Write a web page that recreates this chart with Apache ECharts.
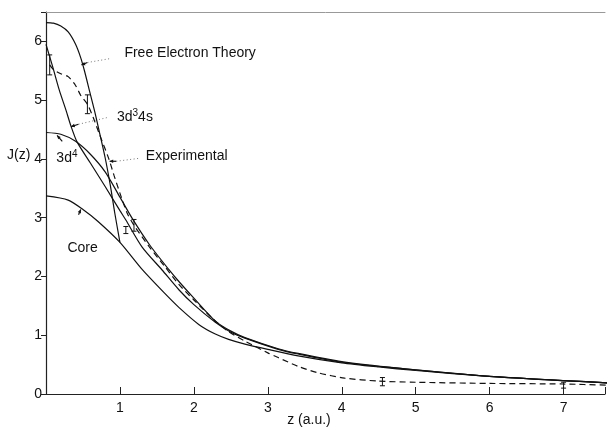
<!DOCTYPE html>
<html>
<head>
<meta charset="utf-8">
<script src="https://cdn.jsdelivr.net/npm/echarts@6/dist/echarts.min.js"></script>
<style>
html, body { margin: 0; padding: 0; background: #fff; }
#chart { width: 608px; height: 428px; }
</style>
</head>
<body>
<div id="chart"></div>
<script>
// curves, z in a.u.
var coreZ = [0, 0.3, 0.5, 0.7, 1.0, 1.3, 1.6, 1.8, 2.07, 2.29, 2.47, 2.69, 3.0, 3.41, 4.0, 4.5, 5.0, 6.0, 7.0, 7.6];
var coreJ = [3.37, 3.30, 3.14, 2.94, 2.58, 2.12, 1.72, 1.47, 1.18, 1.02, 0.93, 0.85, 0.76, 0.65, 0.53, 0.46, 0.40, 0.30, 0.23, 0.19];

var feZ = [0, 0.1, 0.2, 0.3, 0.4, 0.47, 0.52, 0.59, 0.66, 0.72, 0.8, 0.87, 0.93, 1.0];
var feJ = [6.32, 6.31, 6.26, 6.16, 5.95, 5.72, 5.5, 5.15, 4.8, 4.47, 4.02, 3.55, 3.08, 2.58];

var d4Z = [0, 0.2, 0.4, 0.6, 0.8, 1.0, 1.17, 1.4, 1.66, 1.8, 2.0, 2.29, 2.5, 2.69, 3.14, 3.41, 4.0, 4.76, 6.0, 7.6];
var d4J = [4.45, 4.42, 4.30, 4.08, 3.78, 3.35, 2.98, 2.54, 2.12, 1.91, 1.63, 1.24, 1.07, 0.96, 0.77, 0.69, 0.55, 0.44, 0.30, 0.19];

var d3Z = [0, 0.09, 0.18, 0.27, 0.34, 0.42, 0.6, 0.8, 1.0, 1.08, 1.3, 1.57, 1.8, 2.0, 2.29, 2.5, 2.69, 3.14, 3.41, 4.0, 4.76, 6.0, 7.6];
var d3J = [5.95, 5.57, 5.17, 4.83, 4.55, 4.29, 3.93, 3.53, 3.12, 2.96, 2.50, 2.11, 1.77, 1.52, 1.22, 1.05, 0.95, 0.76, 0.68, 0.54, 0.44, 0.30, 0.19];

var expZ = [0.05, 0.1, 0.2, 0.3, 0.4, 0.47, 0.56, 0.64, 0.72, 0.85, 0.92, 1.01, 1.1, 1.19, 1.4, 1.6, 1.8, 2.0, 2.24, 2.47, 2.69, 3.0, 3.14, 3.41, 3.68, 4.04, 4.49, 5.0, 6.0, 7.0, 7.6];
var expJ = [5.6, 5.52, 5.45, 5.4, 5.25, 5.08, 4.93, 4.7, 4.43, 4.0, 3.72, 3.38, 3.07, 2.87, 2.5, 2.18, 1.86, 1.6, 1.30, 1.06, 0.90, 0.70, 0.62, 0.47, 0.36, 0.27, 0.22, 0.20, 0.18, 0.17, 0.15];

// error bars on the experimental points
var errZ = [0.05, 0.56, 1.08, 1.19, 4.55, 7.0];
var errJ = [5.6, 4.93, 2.79, 2.87, 0.21, 0.15];
var errD = [0.17, 0.16, 0.06, 0.1, 0.07, 0.05];

var xTicks = [0, 1, 2, 3, 4, 5, 6, 7];
var yTicks = [0, 1, 2, 3, 4, 5, 6];

function pairs(zs, js) {
    return zs.map(function (z, i) { return [z, js[i]]; });
}

var font = '"Liberation Sans", Arial, Helvetica, sans-serif';
var ink = '#111';

var chart = echarts.init(document.getElementById('chart'));

function curve(name, zs, js, dashed) {
    return {
        name: name,
        type: 'line',
        data: pairs(zs, js),
        smooth: 0.25,
        showSymbol: false,
        symbol: 'none',
        lineStyle: { color: ink, width: 1.2, type: dashed ? [6, 4] : 'solid' }
    };
}

var option = {
    animation: false,
    backgroundColor: '#fff',
    grid: { left: 46, top: 12, right: 0, bottom: 34 },
    xAxis: [{
        type: 'value', min: 0, max: 7.56, interval: 1,
        axisLine: { lineStyle: { color: '#222', width: 1.2 } },
        axisTick: { inside: true, length: 7, lineStyle: { color: '#222' } },
        axisLabel: {
            margin: 7, color: ink, fontSize: 14, fontFamily: font,
            formatter: function (v) { return (v === 0 || xTicks.indexOf(v) < 0) ? '' : String(v); }
        },
        splitLine: { show: false }
    }, {
        type: 'value', position: 'top', min: 0, max: 7.56,
        axisLine: { show: true, lineStyle: { color: '#999', width: 1 } },
        axisTick: { show: false }, axisLabel: { show: false }, splitLine: { show: false }
    }],
    yAxis: {
        type: 'value', min: 0, max: 6.5, interval: 1,
        axisLine: { show: true, lineStyle: { color: '#222', width: 1.2 } },
        axisTick: { show: true, length: 5, lineStyle: { color: '#222' } },
        axisLabel: {
            margin: 4, color: ink, fontSize: 14, fontFamily: font,
            formatter: function (v) { return yTicks.indexOf(v) < 0 ? '' : String(v); }
        },
        splitLine: { show: false }
    },
    series: [
        curve('Core', coreZ, coreJ, false),
        curve('Free Electron Theory', feZ, feJ, false),
        curve('3d4', d4Z, d4J, false),
        curve('3d3 4s', d3Z, d3J, false),
        curve('Experimental', expZ, expJ, true),
        {
            type: 'custom',
            data: errZ.map(function (z, i) { return [z, errJ[i], errD[i]]; }),
            renderItem: function (params, api) {
                var z = api.value(0), j = api.value(1), d = api.value(2);
                var a = api.coord([z, j + d]), b = api.coord([z, j - d]);
                var c = 2.5;
                var st = { stroke: ink, lineWidth: 1 };
                return {
                    type: 'group',
                    children: [
                        { type: 'line', shape: { x1: a[0], y1: a[1], x2: b[0], y2: b[1] }, style: st },
                        { type: 'line', shape: { x1: a[0] - c, y1: a[1], x2: a[0] + c, y2: a[1] }, style: st },
                        { type: 'line', shape: { x1: b[0] - c, y1: b[1], x2: b[0] + c, y2: b[1] }, style: st }
                    ]
                };
            }
        }
    ]
};
chart.setOption(option);

// annotations: arrow tip on curve, short solid piece, dotted leader, then text
var notes = [
    { tip: [0.48, 5.60], mid: [0.56, 5.64], end: [0.88, 5.71], txt: [1.06, 5.80], rich: 'Free Electron Theory' },
    { tip: [0.34, 4.55], mid: [0.44, 4.59], end: [0.85, 4.71], txt: [0.96, 4.71], rich: '3d{s|3}4s' },
    { tip: [0.86, 3.96], mid: [0.95, 3.96], end: [1.26, 4.01], txt: [1.35, 4.04], rich: 'Experimental' },
    { tip: [0.15, 4.40], mid: [0.22, 4.30], end: null, txt: [0.14, 4.01], rich: '3d{s|4}' },
    { tip: [0.47, 3.14], mid: [0.44, 3.05], end: null, txt: [0.29, 2.48], rich: 'Core' }
];

var gfx = [];
notes.forEach(function (n) {
    var p = chart.convertToPixel({ gridIndex: 0 }, n.tip);
    var m = chart.convertToPixel({ gridIndex: 0 }, n.mid);
    gfx.push({ type: 'line', shape: { x1: p[0], y1: p[1], x2: m[0], y2: m[1] }, style: { stroke: ink, lineWidth: 1.2 } });
    var ang = Math.atan2(p[1] - m[1], p[0] - m[0]);
    var h = 4;
    gfx.push({
        type: 'polygon',
        shape: { points: [
            [p[0], p[1]],
            [p[0] - h * Math.cos(ang - 0.45), p[1] - h * Math.sin(ang - 0.45)],
            [p[0] - h * Math.cos(ang + 0.45), p[1] - h * Math.sin(ang + 0.45)]
        ] },
        style: { fill: ink }
    });
    if (n.end) {
        var e = chart.convertToPixel({ gridIndex: 0 }, n.end);
        gfx.push({ type: 'line', shape: { x1: m[0], y1: m[1], x2: e[0], y2: e[1] }, style: { stroke: '#777', lineWidth: 1, lineDash: [1, 2.5] } });
    }
    var t = chart.convertToPixel({ gridIndex: 0 }, n.txt);
    gfx.push({
        type: 'text', x: t[0], y: t[1],
        style: {
            text: n.rich, fill: ink, font: '14px ' + font, verticalAlign: 'middle', align: 'left',
            rich: { s: { fontSize: 10, fontFamily: font, fill: ink, verticalAlign: 'top', padding: [0, 0, 8, 0] } }
        }
    });
});

gfx.push({ type: 'text', left: 7, top: 148, style: { text: 'J(z)', fill: ink, font: '14px ' + font } });
gfx.push({ type: 'text', x: 309, y: 420, style: { text: 'z (a.u.)', fill: ink, font: '14px ' + font, align: 'center', verticalAlign: 'middle' } });

chart.setOption({ graphic: gfx });
</script>
</body>
</html>
